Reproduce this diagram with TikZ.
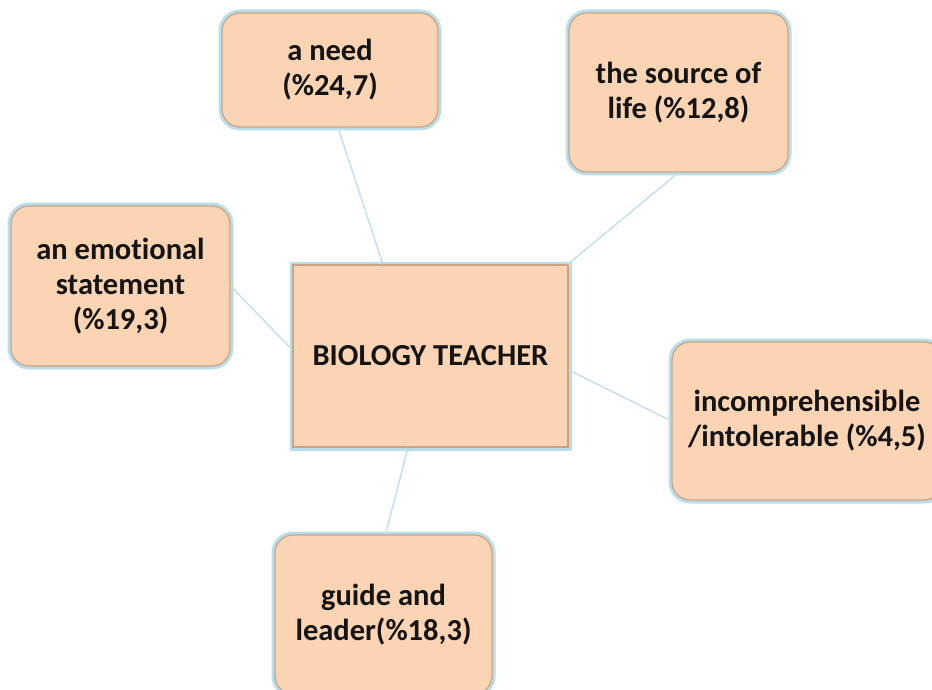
\documentclass[tikz,border=0pt]{standalone}
\usepackage{fontspec}
\setmainfont{Carlito}[Ligatures=NoCommon]
\definecolor{peach}{HTML}{FBD4B4}
\definecolor{rim}{HTML}{B9DEE9}
\definecolor{edge}{HTML}{C9A384}
\definecolor{linkc}{HTML}{BFE0EA}
\definecolor{ink}{HTML}{141414}
\tikzset{
  bubble/.style={rectangle, rounded corners=18pt, fill=peach, draw=edge, line width=1.2pt,
    preaction={draw=rim, line width=7pt},
    align=center, text=ink, font=\fontsize{30.5}{35}\selectfont\bfseries, inner sep=2pt},
  hub/.style={bubble, rounded corners=0pt},
  link/.style={draw=linkc, line width=1.4pt}
}
\begin{document}
\begin{tikzpicture}[x=1pt,y=-1pt]
\useasboundingbox (0,0) rectangle (932,690);
\node[hub, minimum width=275pt, minimum height=182pt] (hub) at (430.5,356) {BIOLOGY TEACHER};
\node[bubble, minimum width=216pt, minimum height=114pt] (need) at (330,70) {a need\\(\%24,7)};
\node[bubble, minimum width=219pt, minimum height=159pt] (life) at (678.5,92.5) {the source of\\life (\%12,8)};
\node[bubble, minimum width=219pt, minimum height=160pt] (emo) at (120.5,286) {an emotional\\statement\\(\%19,3)};
\node[bubble, minimum width=270pt, minimum height=158pt] (inc) at (807,421) {incomprehensible\\/intolerable (\%4,5)};
\node[bubble, minimum width=217pt, minimum height=159pt] (guide) at (383.5,614.5) {guide and\\leader(\%18,3)};
\draw[link] ([xshift=8pt]need.south) -- ([xshift=-47.5pt]hub.north);
\draw[link] (life.south) -- ([xshift=-1pt]hub.north east);
\draw[link] (emo.east) -- ([yshift=6pt]hub.west);
\draw[link] ([yshift=-14pt]hub.east) -- (inc.west);
\draw[link] ([xshift=-22.5pt]hub.south) -- ([xshift=2pt]guide.north);
\end{tikzpicture}
\end{document}
